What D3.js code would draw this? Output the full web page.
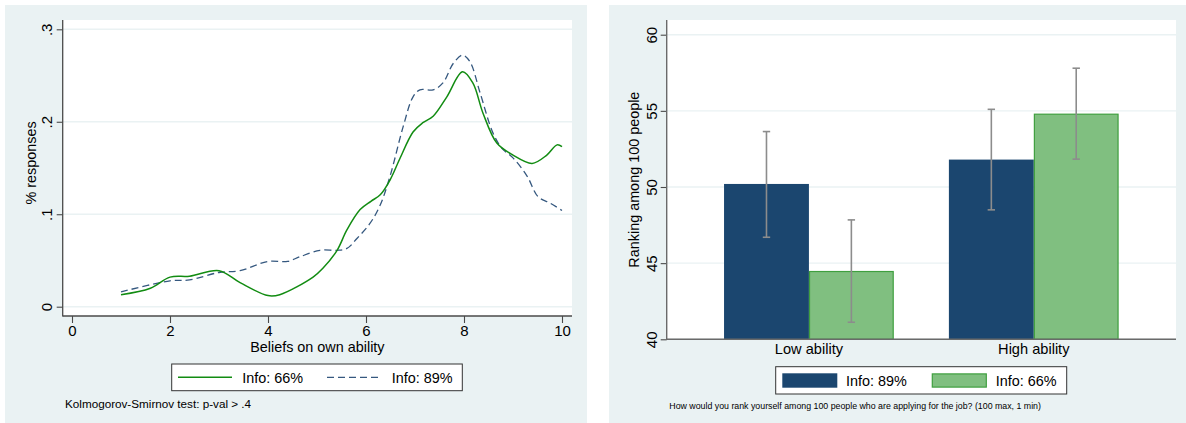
<!DOCTYPE html>
<html>
<head>
<meta charset="utf-8">
<script src="https://cdn.jsdelivr.net/npm/d3@7"></script>
<style>
  html, body { margin: 0; padding: 0; background: #ffffff; }
  svg { display: block; font-family: "Liberation Sans", Arial, Helvetica, sans-serif; }
</style>
</head>
<body>
<svg id="chart" width="1186" height="423"></svg>
<script>
// ---------- Data: left panel (kernel densities of beliefs) ----------
const beliefX66 = [1.0, 1.6, 2.0, 2.4, 3.0, 3.43, 4.0, 4.24, 4.92, 5.12, 5.41, 5.61, 5.88, 6.1, 6.29, 6.49, 6.69, 6.96, 7.16, 7.37, 7.65, 7.97, 8.18, 8.39, 8.67, 9.0, 9.39, 9.69, 9.9, 10.0];
const share66   = [0.013, 0.020, 0.032, 0.033, 0.039, 0.026, 0.012, 0.013, 0.032, 0.0415, 0.061, 0.083, 0.105, 0.114, 0.121, 0.137, 0.160, 0.189, 0.199, 0.206, 0.227, 0.254, 0.242, 0.209, 0.177, 0.164, 0.155, 0.164, 0.175, 0.173];
const beliefX89 = [1.0, 2.0, 2.4, 3.0, 3.43, 4.0, 4.4, 4.65, 5.06, 5.41, 5.61, 5.82, 6.08, 6.29, 6.49, 6.76, 6.96, 7.1, 7.37, 7.57, 7.78, 7.97, 8.12, 8.33, 8.59, 8.78, 9.0, 9.29, 9.51, 9.76, 10.0];
const share89   = [0.016, 0.028, 0.029, 0.037, 0.039, 0.049, 0.049, 0.054, 0.061, 0.061, 0.063, 0.074, 0.090, 0.110, 0.141, 0.195, 0.227, 0.2345, 0.2345, 0.242, 0.263, 0.272, 0.265, 0.231, 0.188, 0.171, 0.161, 0.141, 0.119, 0.112, 0.104];
const leftXTicks = [0, 2, 4, 6, 8, 10];
const leftYTicks = [0, 0.1, 0.2, 0.3];
const leftYTickLabels = ["0", ".1", ".2", ".3"];
const leftSeriesNames = ["Info: 66%", "Info: 89%"];

// ---------- Data: right panel (mean ranking with CIs) ----------
const abilityGroups = ["Low ability", "High ability"];
const infoSeries = ["Info: 89%", "Info: 66%"];
const meanRank89 = [50.2, 51.8];
const meanRank66 = [44.45, 54.78];
const ciLow89  = [46.7, 48.5];
const ciHigh89 = [53.64, 55.1];
const ciLow66  = [41.12, 51.83];
const ciHigh66 = [47.84, 57.8];
const rightYTicks = [40, 45, 50, 55, 60];

const BG = "#eaf2f3";
const GRID = "#eaf2f3";
const AXIS = "#4a4a4a";
const GREEN_LINE = "#128c12";
const NAVY_DASH = "#35587f";
const NAVY = "#1b466f";
const GREEN_FILL = "#80bf80";
const GREEN_EDGE = "#3f9f3f";
const ERR = "#8c8c8c";

const svg = d3.select("#chart");

// ================= LEFT PANEL =================
const L = { x0: 62.7, x1: 572, y0: 20, y1: 316 };
svg.append("rect").attr("x", 5).attr("y", 5).attr("width", 582).attr("height", 418).attr("fill", BG);
svg.append("rect").attr("x", L.x0).attr("y", L.y0).attr("width", L.x1 - L.x0).attr("height", L.y1 - L.y0).attr("fill", "#ffffff");

const xL = d3.scaleLinear().domain([0, 10]).range([72, 562]);
const yL = d3.scaleLinear().domain([0, 0.3]).range([306.7, 29.3]);

const gL = svg.append("g");
gL.selectAll("line.grid").data(leftYTicks).join("line")
  .attr("x1", L.x0).attr("x2", L.x1)
  .attr("y1", d => yL(d)).attr("y2", d => yL(d))
  .attr("stroke", GRID).attr("stroke-width", 1.4);

const lineGen = d3.line().curve(d3.curveCatmullRom.alpha(0.5));
gL.append("path")
  .attr("d", lineGen(beliefX89.map((x, i) => [xL(x), yL(share89[i])])))
  .attr("fill", "none").attr("stroke", NAVY_DASH).attr("stroke-width", 1.3)
  .attr("stroke-dasharray", "7,4");
gL.append("path")
  .attr("d", lineGen(beliefX66.map((x, i) => [xL(x), yL(share66[i])])))
  .attr("fill", "none").attr("stroke", GREEN_LINE).attr("stroke-width", 1.5);

// y axis
const yAxisL = d3.axisLeft(yL).tickValues(leftYTicks).tickSize(6).tickSizeOuter(0)
  .tickFormat((d, i) => leftYTickLabels[i]);
const gyL = gL.append("g").attr("transform", `translate(${L.x0},0)`).call(yAxisL);
gyL.select(".domain").remove();
gyL.selectAll(".tick line").attr("stroke", AXIS).attr("stroke-width", 1.1);
gyL.selectAll(".tick text")
  .attr("x", null).attr("dy", null)
  .attr("transform", "translate(-11,0) rotate(-90)")
  .attr("text-anchor", "middle")
  .attr("font-size", 15).attr("fill", "#000")
  .style("font-family", "'Liberation Sans', Arial, sans-serif");

// x axis
const xAxisL = d3.axisBottom(xL).tickValues(leftXTicks).tickSize(7).tickSizeOuter(0).tickFormat(d3.format("d"));
const gxL = gL.append("g").attr("transform", `translate(0,${L.y1})`).call(xAxisL);
gxL.select(".domain").remove();
gxL.selectAll(".tick line").attr("stroke", AXIS).attr("stroke-width", 1.1);
gxL.selectAll(".tick text").attr("y", 19.7).attr("dy", null)
  .attr("font-size", 15).attr("fill", "#000")
  .style("font-family", "'Liberation Sans', Arial, sans-serif");

gL.append("line").attr("x1", L.x0).attr("x2", L.x0).attr("y1", L.y0).attr("y2", L.y1 + 0.6)
  .attr("stroke", AXIS).attr("stroke-width", 1.3);
gL.append("line").attr("x1", L.x0).attr("x2", L.x1).attr("y1", L.y1).attr("y2", L.y1)
  .attr("stroke", AXIS).attr("stroke-width", 1.3);

gL.append("text").attr("x", (L.x0 + L.x1) / 2).attr("y", 351.7).attr("text-anchor", "middle")
  .attr("font-size", 14.4).text("Beliefs on own ability");
gL.append("text").attr("transform", `translate(35.5,${(L.y0 + L.y1) / 2 - 5}) rotate(-90)`)
  .attr("text-anchor", "middle").attr("font-size", 14.4).text("% responses");

// legend left
const legL = gL.append("g");
legL.append("rect").attr("x", 171.7).attr("y", 364).attr("width", 290.6).attr("height", 26.7)
  .attr("fill", "#fff").attr("stroke", "#333").attr("stroke-width", 1);
legL.append("line").attr("x1", 178).attr("x2", 232).attr("y1", 377.3).attr("y2", 377.3)
  .attr("stroke", GREEN_LINE).attr("stroke-width", 1.5);
legL.append("text").attr("x", 242.3).attr("y", 382.6).attr("font-size", 14.4).text(leftSeriesNames[0]);
legL.append("line").attr("x1", 327).attr("x2", 382).attr("y1", 377.3).attr("y2", 377.3)
  .attr("stroke", NAVY_DASH).attr("stroke-width", 1.3).attr("stroke-dasharray", "7,4");
legL.append("text").attr("x", 391.7).attr("y", 382.6).attr("font-size", 14.4).text(leftSeriesNames[1]);

gL.append("text").attr("x", 65).attr("y", 407.5).attr("font-size", 11.7)
  .text("Kolmogorov-Smirnov test: p-val > .4");

// ================= RIGHT PANEL =================
const R = { x0: 666.7, x1: 1176, y0: 20, y1: 339.3 };
svg.append("rect").attr("x", 609).attr("y", 5).attr("width", 577).attr("height", 418).attr("fill", BG);
svg.append("rect").attr("x", R.x0).attr("y", R.y0).attr("width", R.x1 - R.x0).attr("height", R.y1 - R.y0).attr("fill", "#ffffff");

const yR = d3.scaleLinear().domain([40, 60]).range([339.3, 34.7]);
const xR = d3.scaleBand().domain(abilityGroups).range([R.x0, R.x1]).paddingInner(0.245).paddingOuter(0.255);
const xSub = d3.scaleBand().domain(infoSeries).range([0, xR.bandwidth()]).padding(0);

const gR = svg.append("g");
gR.selectAll("line.grid").data(rightYTicks).join("line")
  .attr("x1", R.x0).attr("x2", R.x1)
  .attr("y1", d => yR(d)).attr("y2", d => yR(d))
  .attr("stroke", GRID).attr("stroke-width", 1.4);

const barData = [];
abilityGroups.forEach((g, i) => {
  barData.push({ group: g, series: infoSeries[0], mean: meanRank89[i], lo: ciLow89[i], hi: ciHigh89[i] });
  barData.push({ group: g, series: infoSeries[1], mean: meanRank66[i], lo: ciLow66[i], hi: ciHigh66[i] });
});
const fillOf = s => s === infoSeries[0] ? NAVY : GREEN_FILL;
const edgeOf = s => s === infoSeries[0] ? NAVY : GREEN_EDGE;

gR.selectAll("rect.bar").data(barData).join("rect")
  .attr("class", "bar")
  .attr("x", d => xR(d.group) + xSub(d.series) + (d.series === infoSeries[1] ? 0.6 : 0))
  .attr("width", d => xSub.bandwidth() - (d.series === infoSeries[1] ? 1.2 : 0))
  .attr("y", d => yR(d.mean))
  .attr("height", d => yR(40) - yR(d.mean))
  .attr("fill", d => fillOf(d.series))
  .attr("stroke", d => d.series === infoSeries[1] ? edgeOf(d.series) : "none")
  .attr("stroke-width", 1.2);

const errG = gR.selectAll("g.err").data(barData).join("g").attr("class", "err")
  .attr("transform", d => `translate(${xR(d.group) + xSub(d.series) + xSub.bandwidth() / 2},0)`);
errG.append("line").attr("x1", 0).attr("x2", 0).attr("y1", d => yR(d.lo)).attr("y2", d => yR(d.hi))
  .attr("stroke", ERR).attr("stroke-width", 1.6);
errG.append("line").attr("x1", -3.7).attr("x2", 3.7).attr("y1", d => yR(d.lo)).attr("y2", d => yR(d.lo))
  .attr("stroke", ERR).attr("stroke-width", 1.6);
errG.append("line").attr("x1", -3.7).attr("x2", 3.7).attr("y1", d => yR(d.hi)).attr("y2", d => yR(d.hi))
  .attr("stroke", ERR).attr("stroke-width", 1.6);

const yAxisR = d3.axisLeft(yR).tickValues(rightYTicks).tickSize(6).tickSizeOuter(0).tickFormat(d3.format("d"));
const gyR = gR.append("g").attr("transform", `translate(${R.x0},0)`).call(yAxisR);
gyR.select(".domain").remove();
gyR.selectAll(".tick line").attr("stroke", AXIS).attr("stroke-width", 1.1);
gyR.selectAll(".tick text")
  .attr("x", null).attr("dy", null)
  .attr("transform", "translate(-10.2,0) rotate(-90)")
  .attr("text-anchor", "middle")
  .attr("font-size", 15).attr("fill", "#000")
  .style("font-family", "'Liberation Sans', Arial, sans-serif");

const xAxisR = d3.axisBottom(xR).tickSize(0).tickSizeOuter(0);
const gxR = gR.append("g").attr("transform", `translate(0,${R.y1})`).call(xAxisR);
gxR.select(".domain").remove();
gxR.selectAll(".tick text").attr("y", 14.8).attr("dy", null)
  .attr("font-size", 14.6).attr("fill", "#000")
  .style("font-family", "'Liberation Sans', Arial, sans-serif");

gR.append("line").attr("x1", R.x0).attr("x2", R.x0).attr("y1", R.y0).attr("y2", R.y1 + 0.6)
  .attr("stroke", "#6a6a6a").attr("stroke-width", 1.4);
gR.append("line").attr("x1", R.x0).attr("x2", R.x1).attr("y1", R.y1).attr("y2", R.y1)
  .attr("stroke", "#6a6a6a").attr("stroke-width", 1.4);

gR.append("text").attr("transform", `translate(638.5,${(R.y0 + R.y1) / 2}) rotate(-90)`)
  .attr("text-anchor", "middle").attr("font-size", 14.4).text("Ranking among 100 people");

// legend right
const legR = gR.append("g");
legR.append("rect").attr("x", 775.7).attr("y", 366.7).attr("width", 291).attr("height", 27.3)
  .attr("fill", "#fff").attr("stroke", "#333").attr("stroke-width", 1);
legR.append("rect").attr("x", 782.3).attr("y", 373.3).attr("width", 55).attr("height", 14.4)
  .attr("fill", NAVY);
legR.append("text").attr("x", 846).attr("y", 385.5).attr("font-size", 14.4).text(infoSeries[0]);
legR.append("rect").attr("x", 932.3).attr("y", 373.9).attr("width", 54).attr("height", 13.2)
  .attr("fill", GREEN_FILL).attr("stroke", GREEN_EDGE).attr("stroke-width", 1.2);
legR.append("text").attr("x", 995.7).attr("y", 385.5).attr("font-size", 14.4).text(infoSeries[1]);

gR.append("text").attr("x", 669.3).attr("y", 409).attr("font-size", 8.8)
  .text("How would you rank yourself among 100 people who are applying for the job? (100 max, 1 min)");
</script>
</body>
</html>
